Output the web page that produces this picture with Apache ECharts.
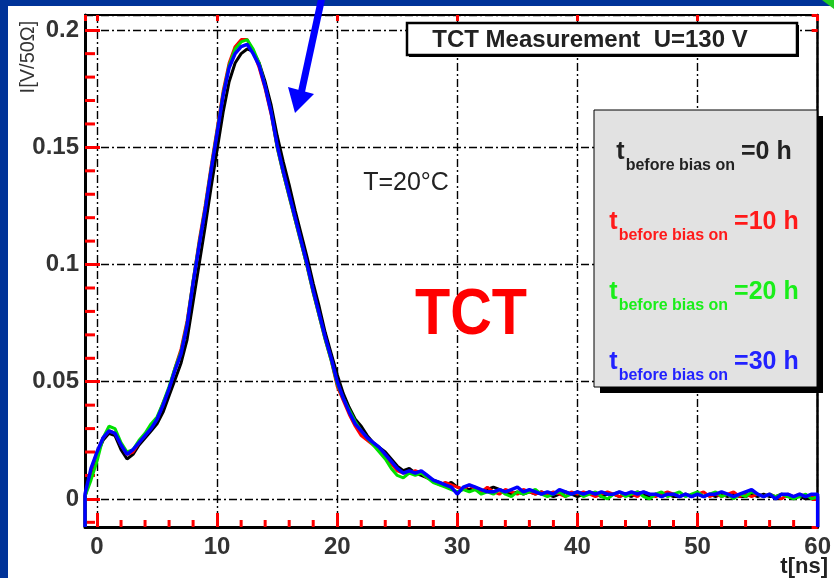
<!DOCTYPE html>
<html><head><meta charset="utf-8">
<script src="https://cdn.jsdelivr.net/npm/echarts@6/dist/echarts.min.js"></script>
<style>
html,body{margin:0;padding:0;background:#003399;overflow:hidden}
#panel{position:absolute;left:8px;top:6px;width:826px;height:578px;background:#fff}
#c{position:absolute;left:0;top:0;width:834px;height:578px}
</style>
</head><body><div id="panel"></div><div id="c"></div>
<script>
// time bins (ns)
const timeNs = [
 -1,-0.5,0,0.5,1,1.5,2,2.5,3,3.5,
 4,4.5,5,5.5,6,6.5,7,7.5,8,8.5,
 9,9.5,10,10.5,11,11.5,12,12.5,13,13.5,
 14,14.5,15,15.5,16,16.5,17,17.5,18,18.5,
 19,19.5,20,20.5,21,21.5,22,22.5,23,23.5,
 24,24.5,25,25.5,26,26.5,27,27.5,28,28.5,
 29,29.5,30,30.5,31,31.5,32,32.5,33,33.5,
 34,34.5,35,35.5,36,36.5,37,37.5,38,38.5,
 39,39.5,40,40.5,41,41.5,42,42.5,43,43.5,
 44,44.5,45,45.5,46,46.5,47,47.5,48,48.5,
 49,49.5,50,50.5,51,51.5,52,52.5,53,53.5,
 54,54.5,55,55.5,56,56.5,57,57.5,58,58.5,
 59,59.5,60
];
// current I [V/50 Ohm]
const current0h = [
 0.001,0.011,0.019,0.025,0.028,0.027,0.021,0.017,0.019,0.023,
 0.026,0.029,0.032,0.037,0.044,0.051,0.058,0.068,0.084,0.100,
 0.116,0.133,0.149,0.165,0.178,0.186,0.190,0.192,0.191,0.186,
 0.178,0.168,0.155,0.144,0.134,0.123,0.113,0.103,0.092,0.082,
 0.071,0.062,0.053,0.045,0.039,0.034,0.031,0.027,0.024,0.022,
 0.020,0.017,0.014,0.012,0.013,0.011,0.010,0.009,0.008,0.007,
 0.006,0.007,0.005,0.004,0.004,0.005,0.003,0.004,0.005,0.004,
 0.003,0.002,0.003,0.002,0.003,0.002,0.003,0.002,0.001,0.002,
 0.003,0.002,0.001,0.002,0.003,0.002,0.001,0.002,0.002,0.001,
 0.002,0.001,0.003,0.002,0.001,0.002,0.001,0.002,0.001,0.001,
 0.002,0.001,0.002,0.001,0.002,0.001,0.002,0.001,0.002,0.001,
 0.001,0.002,0.001,0.002,0.001,0.001,0.002,0.001,0.001,0.001,
 0.000,0.001,0.001
];
const current10h = [
 0.001,0.012,0.020,0.026,0.029,0.028,0.023,0.019,0.020,0.024,
 0.027,0.031,0.034,0.041,0.047,0.056,0.064,0.076,0.093,0.110,
 0.125,0.142,0.158,0.174,0.186,0.193,0.196,0.196,0.191,0.184,
 0.175,0.164,0.150,0.139,0.129,0.119,0.109,0.099,0.088,0.078,
 0.068,0.059,0.048,0.042,0.036,0.031,0.027,0.025,0.023,0.021,
 0.018,0.015,0.012,0.011,0.011,0.012,0.011,0.009,0.008,0.006,
 0.007,0.006,0.005,0.004,0.006,0.004,0.003,0.005,0.003,0.002,
 0.004,0.003,0.002,0.004,0.003,0.002,0.003,0.002,0.003,0.002,
 0.001,0.003,0.002,0.003,0.002,0.001,0.002,0.003,0.002,0.001,
 0.002,0.002,0.001,0.003,0.002,0.001,0.002,0.003,0.002,0.001,
 0.002,0.001,0.002,0.003,0.001,0.002,0.001,0.002,0.003,0.001,
 0.002,0.001,0.002,0.001,0.002,0.001,0.000,0.002,0.001,0.002,
 0.001,0.001,0.001
];
const current20h = [
 0.001,0.008,0.016,0.026,0.031,0.030,0.024,0.020,0.021,0.025,
 0.028,0.032,0.035,0.041,0.048,0.056,0.063,0.075,0.093,0.109,
 0.124,0.141,0.157,0.173,0.185,0.192,0.195,0.196,0.192,0.186,
 0.176,0.165,0.150,0.139,0.129,0.119,0.109,0.099,0.088,0.078,
 0.068,0.059,0.049,0.043,0.038,0.033,0.029,0.026,0.023,0.020,
 0.017,0.013,0.010,0.009,0.011,0.010,0.011,0.009,0.007,0.006,
 0.005,0.004,0.003,0.004,0.003,0.004,0.002,0.003,0.002,0.004,
 0.002,0.001,0.003,0.002,0.003,0.004,0.002,0.001,0.002,0.003,
 0.001,0.002,0.003,0.001,0.002,0.003,0.001,0.000,0.002,0.003,
 0.001,0.002,0.003,0.001,0.000,0.002,0.003,0.001,0.002,0.003,
 0.001,0.002,0.003,0.001,0.002,0.003,0.001,0.002,0.000,0.002,
 0.001,0.003,0.002,0.001,0.002,0.001,0.002,0.001,0.000,0.001,
 0.002,0.000,0.001
];
const current30h = [
 0.002,0.013,0.020,0.026,0.029,0.028,0.023,0.019,0.021,0.024,
 0.027,0.030,0.034,0.040,0.047,0.055,0.062,0.074,0.092,0.108,
 0.123,0.140,0.156,0.172,0.184,0.190,0.193,0.194,0.190,0.185,
 0.176,0.165,0.151,0.140,0.130,0.120,0.110,0.100,0.089,0.079,
 0.069,0.060,0.050,0.043,0.037,0.032,0.029,0.026,0.024,0.022,
 0.019,0.016,0.013,0.011,0.012,0.011,0.012,0.010,0.008,0.007,
 0.006,0.005,0.002,0.005,0.006,0.005,0.004,0.003,0.003,0.004,
 0.003,0.004,0.005,0.003,0.004,0.003,0.002,0.003,0.002,0.004,
 0.003,0.002,0.003,0.002,0.003,0.002,0.003,0.002,0.002,0.003,
 0.002,0.003,0.002,0.003,0.002,0.002,0.001,0.002,0.002,0.001,
 0.002,0.001,0.002,0.001,0.002,0.002,0.003,0.002,0.001,0.002,
 0.003,0.004,0.002,0.001,0.002,0.000,0.002,0.002,0.001,0.002,
 0.001,0.002,0.002
];
const seriesNames = ['t before bias on =0 h','t before bias on =10 h','t before bias on =20 h','t before bias on =30 h'];
const seriesHours = ['0','10','20','30'];
const seriesColors = ['#000000','#ff0000','#00e000','#0000ff'];
const legendTextColors = ['#222222','#ff1a1a','#1aee1a','#2222ff'];
const xMinorTicks = [2,4,6,8,12,14,16,18,22,24,26,28,32,34,36,38,42,44,46,48,52,54,56,58];
const yMinorTicks = [-0.01,0.01,0.02,0.03,0.04,0.06,0.07,0.08,0.09,0.11,0.12,0.13,0.14,0.16,0.17,0.18,0.19];
const xRange = [-1, 60];
const yRange = [-0.012, 0.2065];

const FONT = '"Liberation Sans", Arial, Helvetica, sans-serif';
const allCurrents = [current0h, current10h, current20h, current30h];

function buildData(vals){
  const d = [[xRange[0], yRange[0]]];
  for (let i = 0; i < timeNs.length; i++) d.push([timeNs[i], vals[i]]);
  d.push([xRange[1], yRange[0]]);
  return d;
}

const chart = echarts.init(document.getElementById('c'), null, {renderer:'canvas'});
const dashDot = [8,3,2,3];
const TICK_COLOR = '#ff0000';

// minor tick marks through the axis scale (custom series)
function minorTickSeries(values, horizontalAxis, len){
  return {
    type: 'custom', coordinateSystem: 'cartesian2d', clip: false,
    data: values.map(v => horizontalAxis ? [v, yRange[0]] : [xRange[0], v]),
    renderItem: function(params, api){
      const p = api.coord([api.value(0), api.value(1)]);
      const x2 = horizontalAxis ? p[0] : p[0] + len;
      const y2 = horizontalAxis ? p[1] - len : p[1];
      return {type: 'line', shape: {x1: p[0], y1: p[1], x2: x2, y2: y2}, style: {stroke: TICK_COLOR, lineWidth: 3}};
    }
  };
}

function isMajorX(v){ return v >= 0 && Math.abs(v / 10 - Math.round(v / 10)) < 1e-6; }
function isMajorY(v){ return v >= -1e-9 && Math.abs(v / 0.05 - Math.round(v / 0.05)) < 1e-6; }

const legendTexts = seriesHours.map((h, i) => {
  const col = legendTextColors[i];
  return {
    type: 'text', x: 704, y: 174 + i * 70, z: 20,
    style: {
      text: '{t|t}{s|before bias on}{v|=' + h + ' h}',
      align: 'center', verticalAlign: 'bottom', fill: col,
      rich: {
        t: {fontSize: 25, fontWeight: 'bold', fontFamily: FONT, fill: col, lineHeight: 25, padding: [0,1,9,0], verticalAlign: 'bottom'},
        s: {fontSize: 16, fontWeight: 'bold', fontFamily: FONT, fill: col, lineHeight: 16, verticalAlign: 'bottom'},
        v: {fontSize: 25, fontWeight: 'bold', fontFamily: FONT, fill: col, lineHeight: 25, padding: [0,0,9,6], verticalAlign: 'bottom'}
      }
    }
  };
});

const tickStyle = {color: TICK_COLOR, width: 3};
const option = {
  animation: false,
  grid: {left: 85, right: 6, top: 15, bottom: 51, containLabel: false},
  xAxis: [
    {
      type: 'value', min: xRange[0], max: xRange[1], position: 'bottom',
      axisLine: {show: true, onZero: false, lineStyle: {color: '#000', width: 3}},
      axisTick: {show: true, inside: true, length: 14, lineStyle: tickStyle},
      axisLabel: {show: true, showMinLabel: false, fontSize: 24, fontWeight: 'bold', fontFamily: FONT, color: '#333', margin: 8,
        formatter: v => isMajorX(v) ? String(Math.round(v)) : ''},
      splitLine: {show: true, lineStyle: {color: '#000', width: 1.4, type: dashDot}}
    },
    {
      type: 'value', min: xRange[0], max: xRange[1], position: 'top',
      axisLine: {show: true, onZero: false, lineStyle: {color: '#000', width: 2}},
      axisTick: {show: true, inside: true, length: 6, lineStyle: tickStyle},
      axisLabel: {show: false}, splitLine: {show: false}
    }
  ],
  yAxis: [
    {
      type: 'value', min: yRange[0], max: yRange[1], position: 'left',
      axisLine: {show: true, onZero: false, lineStyle: {color: '#000', width: 3}},
      axisTick: {show: true, inside: true, length: 15, lineStyle: tickStyle},
      axisLabel: {show: true, showMinLabel: false, showMaxLabel: false, fontSize: 24, fontWeight: 'bold', fontFamily: FONT, color: '#333', margin: 6,
        formatter: v => isMajorY(v) ? String(+(+v).toFixed(3)) : ''},
      splitLine: {show: true, lineStyle: {color: '#000', width: 1.4, type: dashDot}}
    },
    {
      type: 'value', min: yRange[0], max: yRange[1], position: 'right',
      axisLine: {show: true, onZero: false, lineStyle: {color: '#000', width: 2.5}},
      axisTick: {show: true, inside: true, length: 6, lineStyle: tickStyle},
      axisLabel: {show: false}, splitLine: {show: false}
    }
  ],
  series: allCurrents.map((vals, i) => ({
    name: seriesNames[i], type: 'line', xAxisIndex: 0, yAxisIndex: 0,
    data: buildData(vals), showSymbol: false, symbol: 'none', clip: true,
    lineStyle: {color: seriesColors[i], width: i === 3 ? 3.5 : 3}, z: 3 + i
  })).concat([
    minorTickSeries(xMinorTicks, true, 7),
    minorTickSeries(yMinorTicks, false, 10)
  ]),
  graphic: [
    {type: 'rect', z: 10, shape: {x: 409, y: 25, width: 390, height: 32}, style: {fill: '#000'}},
    {type: 'rect', z: 11, shape: {x: 407, y: 23, width: 390, height: 32}, style: {fill: '#fff', stroke: '#000', lineWidth: 2.5}},
    {type: 'text', z: 12, x: 590, y: 40, style: {text: 'TCT Measurement  U=130 V', fontSize: 24, fontWeight: 'bold', fontFamily: FONT, fill: '#222', align: 'center', verticalAlign: 'middle'}},
    {type: 'rect', z: 10, shape: {x: 600, y: 116, width: 223, height: 277}, style: {fill: '#000'}},
    {type: 'rect', z: 11, shape: {x: 594, y: 110, width: 223, height: 277}, style: {fill: '#e2e2e2', stroke: '#000', lineWidth: 1}},
    ...legendTexts,
    {type: 'text', z: 12, x: 406, y: 183, style: {text: 'T=20°C', fontSize: 25, fontFamily: FONT, fill: '#222', align: 'center', verticalAlign: 'middle'}},
    {type: 'text', z: 12, x: 471, y: 316, scaleX: 0.9, style: {text: 'TCT', fontSize: 64, fontWeight: 'bold', fontFamily: FONT, fill: '#ff0000', align: 'center', verticalAlign: 'middle'}},
    {type: 'text', z: 12, x: 28, y: 57, rotation: Math.PI / 2, style: {text: 'I[V/50Ω]', fontSize: 20, fontFamily: FONT, fill: '#333', align: 'center', verticalAlign: 'middle'}},
    {type: 'text', z: 12, x: 828, y: 556, style: {text: 't[ns]', fontSize: 22, fontWeight: 'bold', fontFamily: FONT, fill: '#222', align: 'right', verticalAlign: 'top'}},
    {type: 'line', z: 30, shape: {x1: 322, y1: -3, x2: 301, y2: 94}, style: {stroke: '#0000ff', lineWidth: 7}},
    {type: 'polygon', z: 30, shape: {points: [[288, 87], [314, 94], [295, 113]]}, style: {fill: '#0000ff'}},
    {type: 'polygon', z: 30, shape: {points: [[822, 0], [834, 0], [834, 9]]}, style: {fill: '#22cc22'}}
  ]
};
chart.setOption(option);
</script>
</body></html>
